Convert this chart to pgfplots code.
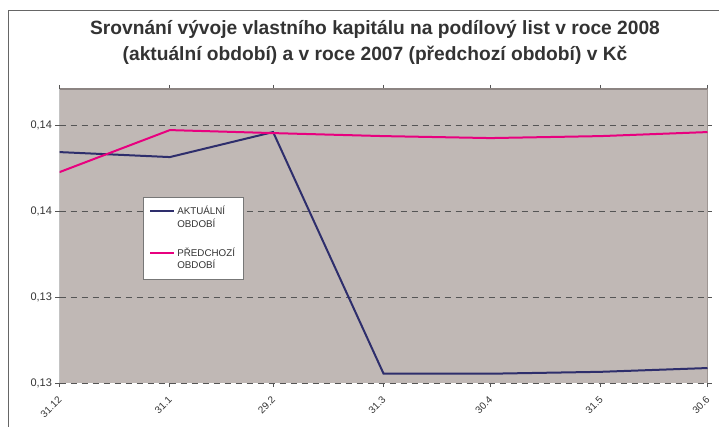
\documentclass[border=0pt]{standalone}
\usepackage{fontspec}
\setmainfont{Liberation Sans}
\usepackage{pgfplots}
\pgfplotsset{compat=1.18}
\definecolor{plotbg}{HTML}{C0B8B5}
\definecolor{plotborder}{HTML}{8C8482}
\definecolor{navy}{HTML}{2E2E6C}
\definecolor{pinkline}{HTML}{E8007F}
\definecolor{txt}{HTML}{333333}
\definecolor{gridc}{HTML}{555555}
\begin{document}
\begin{tikzpicture}
\useasboundingbox (0,0) rectangle (719bp,427bp);
\draw[color=gridc!90, line width=1.8bp] (8.5bp,-5bp) -- (8.5bp,416.5bp) -- (725bp,416.5bp);
\node[align=center, font=\bfseries\fontsize{19.2bp}{26bp}\selectfont, text=txt] at (375bp,384.5bp)
  {Srovnání vývoje vlastního kapitálu na podílový list v roce 2008\\(aktuální období) a v roce 2007 (předchozí období) v Kč};
\begin{axis}[
  at={(59.5bp,44bp)}, anchor=south west,
  scale only axis, width=648bp, height=294bp,
  xmin=0, xmax=182, ymin=0, ymax=3.42,
  axis background/.style={fill=plotbg},
  axis line style={draw=none},
  xtick={0,31,60,91,121,152,182},
  xticklabels={31.12,31.1,29.2,31.3,30.4,31.5,30.6},
  ytick={0,1,2,3},
  yticklabels={{0,13},{0,13},{0,14},{0,14}},
  tick align=outside, major tick length=4bp,
  tick style={color=gridc, line width=0.8bp},
  x tick label style={rotate=45, anchor=east, font=\fontsize{10bp}{11bp}\selectfont, text=txt, yshift=-8bp, xshift=-4bp},
  y tick label style={font=\fontsize{11bp}{12bp}\selectfont, text=txt},
  ymajorgrids, grid style={color=gridc, dash pattern=on 6bp off 5bp, line width=0.8bp},
  legend style={at={(0.129,0.633)}, anchor=north west, draw=gridc!80, fill=white,
    font=\fontsize{9.8bp}{14bp}\selectfont, text=txt, inner xsep=6bp, inner ysep=7bp,
    row sep=15bp, cells={anchor=west}},
  legend image code/.code={\draw[#1] (0bp,6bp) -- (24bp,6bp);},
]
\draw[plotborder, line width=2bp] (rel axis cs:0,1) -- (rel axis cs:1,1) -- (rel axis cs:1,0);
\draw[gridc, line width=1bp] (rel axis cs:0,1) -- (rel axis cs:0,0) -- (rel axis cs:1,0);
\addplot[navy, line width=2bp] coordinates {
(0,2.686) (31,2.628) (60,2.919) (91,0.11) (121,0.108) (152,0.13) (182,0.174)};
\addlegendentry{\shortstack[l]{AKTUÁLNÍ\\[1bp]OBDOBÍ}}
\addplot[pinkline, line width=2bp] coordinates {
(0,2.453) (31,2.942) (60,2.907) (91,2.872) (121,2.849) (152,2.872) (182,2.919)};
\addlegendentry{\shortstack[l]{PŘEDCHOZÍ\\[1bp]OBDOBÍ}}
\end{axis}
\end{tikzpicture}
\end{document}
